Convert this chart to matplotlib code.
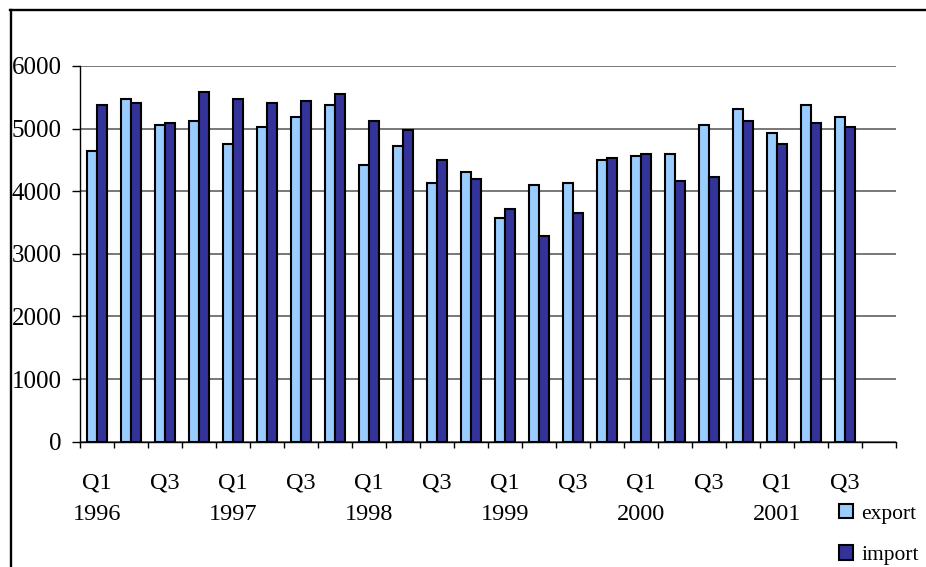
import matplotlib
matplotlib.use("Agg")
import matplotlib.pyplot as plt
from matplotlib.lines import Line2D
from matplotlib.patches import Patch
import numpy as np

plt.rcParams['font.family'] = ['Liberation Serif', 'DejaVu Serif']

quarters = ["Q1", "Q2", "Q3", "Q4"] * 6
years = ["1996", "1997", "1998", "1999", "2000", "2001"]

export = [4650, 5470, 5065, 5125, 4750, 5030, 5190, 5375,
          4415, 4725, 4130, 4310, 3565, 4100, 4125, 4500,
          4565, 4595, 5060, 5310, 4930, 5375, 5185]
imports = [5375, 5405, 5090, 5590, 5470, 5405, 5440, 5560,
           5125, 4970, 4500, 4195, 3720, 3285, 3660, 4530,
           4595, 4160, 4220, 5125, 4750, 5090, 5030]

series_names = ["export", "import"]
colors = ["#99CCFF", "#333399"]

W, H = 926, 567
FS = 18
fig = plt.figure(figsize=(W / 100, H / 100), dpi=100)
ax = fig.add_axes([80 / W, 1 - 441.7 / H, (895.5 - 80) / W, (441.7 - 66) / H])

n_cat = 24
x = np.arange(len(export))
bw = 0.295
ax.bar(x - bw / 2, export, bw, color=colors[0], edgecolor="black", linewidth=1.5, zorder=3)
ax.bar(x + bw / 2, imports, bw, color=colors[1], edgecolor="black", linewidth=1.5, zorder=3)

ax.set_xlim(-0.5, n_cat - 0.5)
ax.set_ylim(0, 6000)

ax.set_yticks(np.arange(0, 6001, 1000))
ax.yaxis.grid(True, color="#606060", linewidth=1.2, zorder=0)
ax.tick_params(axis="y", direction="out", length=6, width=1, pad=7, labelsize=FS)

# category boundaries carry the tick marks; centres carry the labels
ax.set_xticks(np.arange(-0.5, n_cat, 1.0))
ax.set_xticklabels([])
ax.tick_params(axis="x", which="major", direction="out", length=4.5, width=1)

label_pos = np.arange(0, n_cat, 2)
labels = []
for i in label_pos:
    q = quarters[i]
    if q == "Q1":
        labels.append(f"{q}\n{years[i // 4]}")
    else:
        labels.append(q)
ax.set_xticks(label_pos, minor=True)
ax.set_xticklabels(labels, minor=True, fontsize=FS - 0.5, linespacing=1.7, va="top")
ax.tick_params(axis="x", which="minor", length=0, pad=22)

for s in ["top", "right"]:
    ax.spines[s].set_visible(False)
for s in ["left", "bottom"]:
    ax.spines[s].set_color("black")
    ax.spines[s].set_linewidth(1.0)

handles = [Patch(facecolor=c, edgecolor="black", linewidth=1.5) for c in colors]
fig.legend(handles, series_names, loc="upper left",
           bbox_to_anchor=(839 / W, 1 - 504 / H), frameon=False,
           fontsize=15.5, handlelength=0.65, handleheight=0.65,
           handletextpad=0.4, labelspacing=1.0, borderpad=0, borderaxespad=0)

# outer chart frame
fig.add_artist(Line2D([10.8 / W, 10.8 / W], [0, 1 - 9.5 / H], color="black",
                      linewidth=1.7, transform=fig.transFigure))
fig.add_artist(Line2D([10 / W, 1], [1 - 9.5 / H, 1 - 9.5 / H], color="black",
                      linewidth=1.7, transform=fig.transFigure))

fig.savefig("out.png", dpi=100)
